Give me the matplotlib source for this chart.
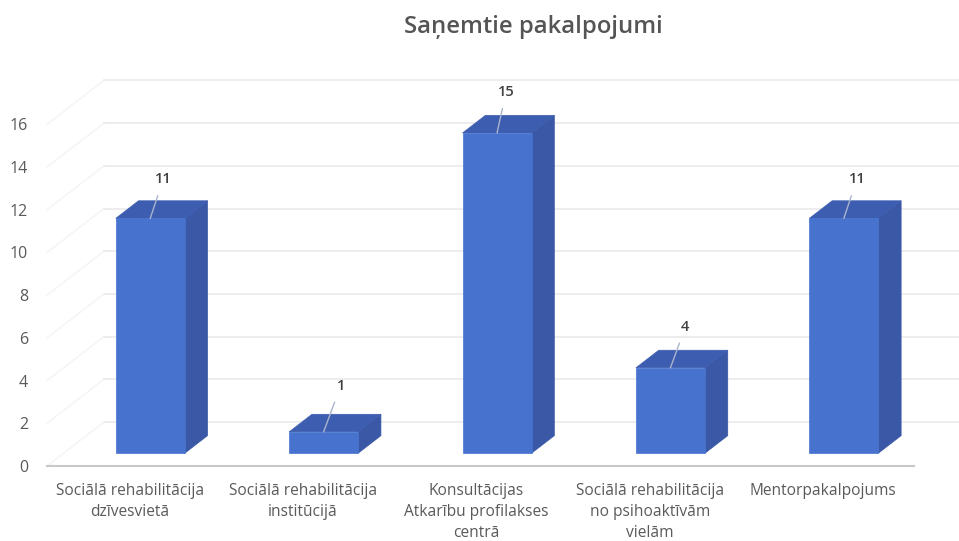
import matplotlib
matplotlib.use("Agg")
import matplotlib.pyplot as plt
from matplotlib.patches import Polygon

categories = ["Sociālā rehabilitācija\ndzīvesvietā", "Sociālā rehabilitācija\ninstitūcijā",
              "Konsultācijas\nAtkarību profilakses\ncentrā", "Sociālā rehabilitācija\nno psihoaktīvām\nvielām",
              "Mentorpakalpojums"]
values = [11, 1, 15, 4, 11]
y_ticks = [0, 2, 4, 6, 8, 10, 12, 14, 16]
title = "Saņemtie pakalpojumi"

W, H = 959, 541
X_STEP, Y_STEP = 173.4, 21.35
X0, Y0 = 133.7, 466
DX, DY = 57 / X_STEP, 44 / Y_STEP
BAR_HALF = 34.5 / X_STEP
D_FRONT, D_BACK = 0.29, 0.69
FRONT, SIDE, TOP = "#4773CE", "#3A58A6", "#3D5DB0"
TXT = "#5A5A5A"
FONT = "Open Sans"

fig = plt.figure(figsize=(W / 100, H / 100), dpi=100)
ax = fig.add_axes([0, 0, 1, 1])
ax.set_xlim(-X0 / X_STEP, (W - X0) / X_STEP)
ax.set_ylim(-(H - Y0) / Y_STEP, Y0 / Y_STEP)
ax.axis("off")
xl, xr = -0.5, 4.5


def P(x, y, d):
    return (x + d * DX, y + d * DY)


for v in y_ticks:
    ax.plot(*zip(P(xl, v, 0), P(xl, v, 1)), color="#F4F4F4", lw=1, zorder=1)
    ax.plot(*zip(P(xl, v, 1), P(xr + 0.2, v, 1)), color="#EAEAEA", lw=1.2, zorder=1)
    ax.annotate(str(v), (xl, v), xytext=(-19, -2), textcoords="offset pixels", ha="right", va="center",
                fontsize=11.5, color=TXT, family=FONT)
ax.plot([xl, xr], [0, 0], color="#C8C8C8", lw=1.5, zorder=2)

label_off = [(13, 39), (17, 46), (9, 41), (15, 41), (13, 39)]
for i, (v, cat) in enumerate(zip(values, categories)):
    a, b = i - BAR_HALF, i + BAR_HALF
    ax.add_patch(Polygon([P(b, 0, D_FRONT), P(b, 0, D_BACK), P(b, v, D_BACK), P(b, v, D_FRONT)],
                         fc=SIDE, ec=SIDE, lw=0.5, zorder=3))
    ax.add_patch(Polygon([P(a, v, D_FRONT), P(b, v, D_FRONT), P(b, v, D_BACK), P(a, v, D_BACK)],
                         fc=TOP, ec=TOP, lw=0.5, zorder=3))
    ax.add_patch(Polygon([P(a, 0, D_FRONT), P(b, 0, D_FRONT), P(b, v, D_FRONT), P(a, v, D_FRONT)],
                         fc=FRONT, ec=FRONT, lw=0.5, zorder=4))
    ox, oy = label_off[i]
    ax.annotate(str(v), P(i, v, D_FRONT), xytext=(ox, oy), textcoords="offset pixels",
                ha="center", va="center", fontsize=10.5, color="#404040", family=FONT, zorder=6,
                fontweight="semibold",
                arrowprops=dict(arrowstyle="-", color="#A9B4CC", lw=1, shrinkA=5, shrinkB=0))
    ax.annotate(cat, (i, 0), xytext=(-4, -17), textcoords="offset pixels", ha="center", va="top",
                fontsize=11.2, color=TXT, family=FONT, linespacing=1.41)

fig.text(533 / W, 1 - 27 / H, title, ha="center", va="center", fontsize=17.2, color="#555555",
         family=FONT, fontweight="semibold")
fig.savefig("out.png", dpi=100)
